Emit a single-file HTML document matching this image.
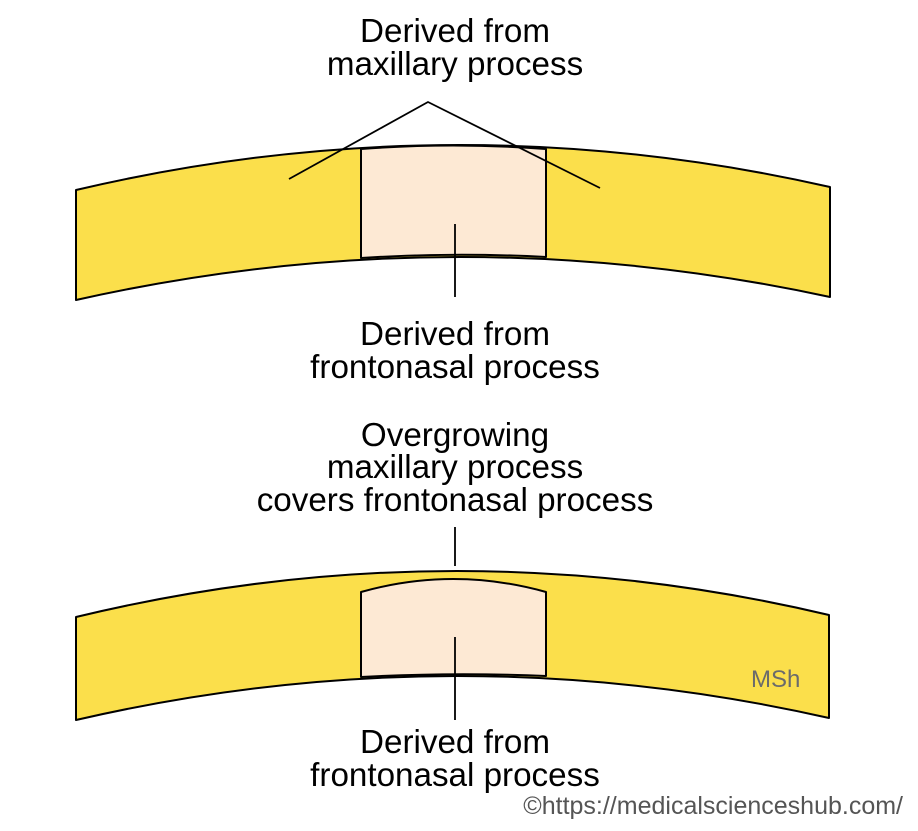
<!DOCTYPE html>
<html><head><style>body{margin:0;background:#fff}</style></head><body>
<svg width="918" height="826" xmlns="http://www.w3.org/2000/svg" font-family="Liberation Sans, sans-serif">
<rect width="918" height="826" fill="#fff"/>
<g stroke="#000" stroke-width="2" stroke-linejoin="round">
<path d="M76,190 Q453,101.5 830,187 L830,297 Q453,215.5 76,300 Z" fill="#fbdf4b"/>
<path d="M361,149 Q453,142 546,149 L546,257 Q453,252 361,258 Z" fill="#fde9d4"/>
<path d="M76,617 Q453,526 829,615 L829,718 Q453,633 76,720 Z" fill="#fbdf4b"/>
<path d="M361,592 Q453,566 546,592 L546,676 Q453,672 361,677 Z" fill="#fde9d4"/>
<path d="M289,179 L428,102 L600,188 M455,224 V297 M455,527 V566 M455,637 V720" fill="none" stroke-width="1.8"/>
</g>
<g font-size="33.2" text-anchor="middle" fill="#000">
<text x="455" y="42">Derived from</text>
<text x="455" y="75">maxillary process</text>
<text x="455" y="345">Derived from</text>
<text x="455" y="378">frontonasal process</text>
<text x="455" y="446">Overgrowing</text>
<text x="455" y="478">maxillary process</text>
<text x="455" y="511">covers frontonasal process</text>
<text x="455" y="753">Derived from</text>
<text x="455" y="786">frontonasal process</text>
</g>
<text x="751" y="687" font-size="24" fill="#6b6b6b">MSh</text>
<text x="903" y="814" font-size="25" fill="#555" text-anchor="end">©https://medicalscienceshub.com/</text>
</svg>
</body></html>
